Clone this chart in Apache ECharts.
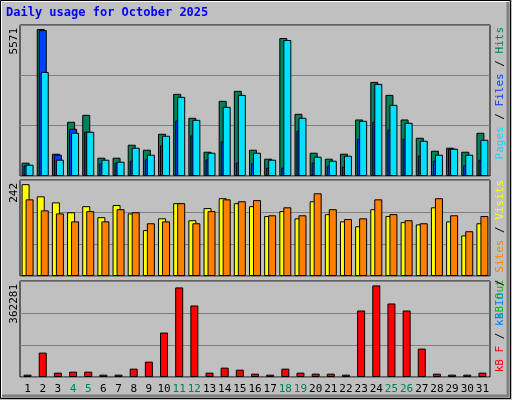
<!DOCTYPE html>
<html>
<head>
<meta charset="utf-8">
<script src="https://cdn.jsdelivr.net/npm/echarts@6/dist/echarts.min.js"></script>
<style>
  html, body { margin: 0; padding: 0; background: #c0c0c0; }
  #chart { width: 512px; height: 400px; box-sizing: border-box; }
</style>
</head>
<body>
<div id="chart"></div>
<script>
// daily values for October 2025
var days = ['1','2','3','4','5','6','7','8','9','10','11','12','13','14','15','16',
            '17','18','19','20','21','22','23','24','25','26','27','28','29','30','31'];
var weekend = ['4','5','11','12','18','19','25','26'];

var hits  = [504,5571,844,2054,2318,693,693,1184,995,1600,3112,2205,920,2848,3226,995,
             655,5229,2356,882,655,844,2142,3566,3074,2142,1449,958,1071,920,1638];
var files = [403,5530,806,1789,1676,479,504,580,630,1159,2104,1537,630,1310,504,479,
             315,315,1714,504,391,353,1411,2054,1751,1411,769,580,1033,403,617];
var pages = [428,3944,617,1638,1676,617,542,1071,806,1525,2999,2129,882,2621,3074,882,
             617,5153,2205,731,580,769,2092,3490,2696,2016,1336,806,1033,806,1373];

var visits = [242,210,194,168,184,155,187,165,121,152,192,147,179,205,192,184,
              158,171,152,197,163,144,131,176,158,142,136,181,144,107,139];
var sites  = [202,173,165,144,171,144,176,168,139,144,192,139,171,202,197,200,
              160,181,160,218,176,150,152,202,163,147,139,205,160,118,158];

var kbytes = [9254,96500,17186,21150,21150,9254,9254,33050,60800,175800,354300,282900,17186,37000,29000,13200,
              9254,33050,17186,13200,13200,9254,263000,362281,290800,263000,112400,13200,9254,9254,17186];

var maxLabels = ['5571', '242', '362281'];

var myChart = echarts.init(document.getElementById('chart'));
var mono = 'DejaVu Sans Mono';

function yAx(idx, max) {
    return {
        gridIndex: idx, type: 'value', min: 0, max: max, interval: max / 3,
        axisLabel: { show: false }, axisLine: { show: false }, axisTick: { show: false },
        splitLine: { lineStyle: { color: '#808080', width: 1 } }
    };
}
function xAx(idx, show) {
    return {
        gridIndex: idx, type: 'category', data: days,
        axisLine: { show: false }, axisTick: { show: false },
        axisLabel: {
            show: show, margin: 7, fontFamily: mono, fontSize: 11, interval: 0,
            formatter: function (v) { return weekend.indexOf(v) >= 0 ? '{w|' + v + '}' : v; },
            color: '#000', rich: { w: { color: '#00805c', fontFamily: mono, fontSize: 11 } }
        }
    };
}
var bar = function (name, data, xi, color, w, gap) {
    return {
        name: name, type: 'bar', data: data, xAxisIndex: xi, yAxisIndex: xi,
        barWidth: w, barGap: gap, silent: true,
        itemStyle: { color: color, borderColor: '#000', borderWidth: 1 }
    };
};

myChart.setOption({
    animation: false,
    backgroundColor: '#c0c0c0',
    grid: [
        { left: 20, right: 22, top: 25, height: 151, show: true, borderColor: '#000', backgroundColor: '#c0c0c0' },
        { left: 20, right: 22, top: 180, height: 96, show: true, borderColor: '#000', backgroundColor: '#c0c0c0' },
        { left: 20, right: 22, top: 281, height: 96, show: true, borderColor: '#000', backgroundColor: '#c0c0c0' }
    ],
    xAxis: [xAx(0, false), xAx(1, false), xAx(2, true)],
    yAxis: [yAx(0, 5722), yAx(1, 253), yAx(2, 379700)],
    series: [
        bar('Hits', hits, 0, '#00805c', 8, '-75%'),
        bar('Files', files, 0, '#0040ff', 8, '-75%'),
        bar('Pages', pages, 0, '#00e0ff', 8, '-75%'),
        bar('Visits', visits, 1, '#ffff00', 8, '-50%'),
        bar('Sites', sites, 1, '#ff8000', 8, '-50%'),
        bar('kB F', kbytes, 2, '#ff0000', 8, '0%')
    ],
    graphic: [
        { type: 'rect', shape: { x: 0.5, y: 0.5, width: 510, height: 398 },
          style: { fill: 'none', stroke: '#000', lineWidth: 1 } },
        { type: 'polyline', shape: { points: [[1.5, 397], [1.5, 1.5], [509, 1.5]] },
          style: { stroke: '#fff', lineWidth: 1, fill: 'none' } },
        { type: 'polyline', shape: { points: [[2, 396], [508, 396], [508, 2]] },
          style: { stroke: '#808080', lineWidth: 3, fill: 'none' } },
        { type: 'text', left: 6, top: 7,
          style: { text: 'Daily usage for October 2025', fill: '#0000ff',
                   font: 'bold 12px "DejaVu Sans Mono"' } },
        { type: 'text', x: 9, y: 28, rotation: Math.PI / 2,
          style: { text: maxLabels[0], fill: '#000', font: '11px "DejaVu Sans Mono"', align: 'right' } },
        { type: 'text', x: 9, y: 183, rotation: Math.PI / 2,
          style: { text: maxLabels[1], fill: '#000', font: '11px "DejaVu Sans Mono"', align: 'right' } },
        { type: 'text', x: 9, y: 284, rotation: Math.PI / 2,
          style: { text: maxLabels[2], fill: '#000', font: '11px "DejaVu Sans Mono"', align: 'right' } },
        { type: 'text', x: 495, y: 27, rotation: Math.PI / 2,
          style: { text: '{p|Pages} / {f|Files} / {h|Hits}', align: 'right', fill: '#000',
                   font: '11px "DejaVu Sans Mono"',
                   rich: { p: { fill: '#00e0ff' }, f: { fill: '#0040ff' }, h: { fill: '#00805c' } } } },
        { type: 'text', x: 495, y: 180, rotation: Math.PI / 2,
          style: { text: '{o|kB Out} {s|Sites} / {v|Visits}', align: 'right', fill: '#000',
                   font: '11px "DejaVu Sans Mono"',
                   rich: { o: { fill: '#00c000' }, s: { fill: '#ff8000' }, v: { fill: '#ffff00' } } } },
        { type: 'text', x: 495, y: 273, rotation: Math.PI / 2,
          style: { text: '{f|kB F} / {i|kB In} / ', align: 'right', fill: '#000',
                   font: '11px "DejaVu Sans Mono"',
                   rich: { f: { fill: '#ff0000' }, i: { fill: '#0080ff' } } } }
    ]
});
</script>
</body>
</html>
